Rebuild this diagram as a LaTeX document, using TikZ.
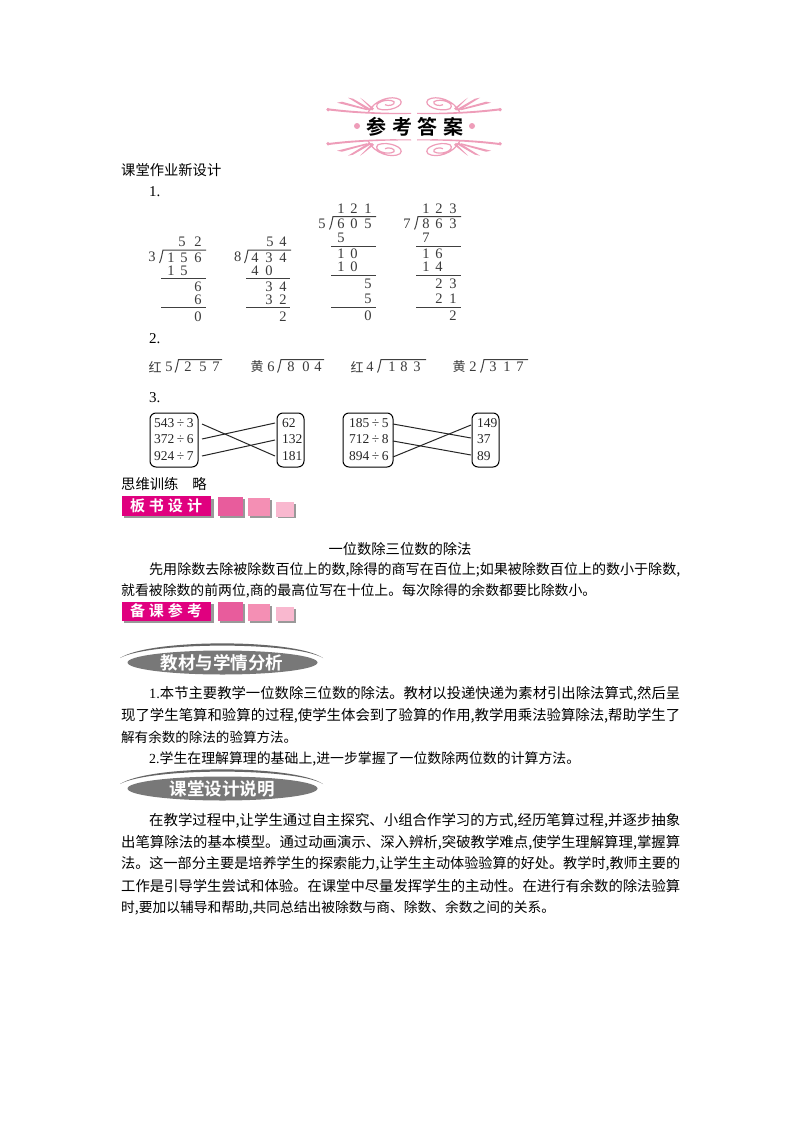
\documentclass[tikz,border=0pt]{standalone}
\usepackage{graphicx}
\usepackage{fontspec}
\setmainfont{Liberation Serif}
\newfontfamily\cjk{Noto Sans CJK SC}
\newfontfamily\cjkb{Noto Sans CJK SC Bold}
\newfontfamily\num{Liberation Serif}
\definecolor{pinkA}{HTML}{E0007F}
\definecolor{pinkB}{HTML}{E85C9C}
\definecolor{pinkC}{HTML}{F48FB4}
\definecolor{pinkD}{HTML}{F9B8CF}
\definecolor{orn}{HTML}{EE9DB9}
\definecolor{bann}{HTML}{787878}
\definecolor{inkg}{HTML}{3A3A3A}
\tikzset{
  x=1pt,y=-1pt,
  body/.style={font=\cjk\fontsize{14.3}{14.3}\selectfont,text=black,inner sep=0pt,anchor=west},
  math/.style={font=\num\fontsize{14.5}{14.5}\selectfont,text=inkg,inner sep=0pt},
  cjkm/.style={font=\cjk\fontsize{13}{13}\selectfont,text=inkg,inner sep=0pt},
  rule/.style={line width=1pt,draw=black!75},
  pill/.style={draw=black,line width=1pt,rounded corners=6pt},
  link/.style={line width=1pt,draw=black!85},
  cell/.style={font=\num\fontsize{13.5}{13.5}\selectfont,text=black!85,inner sep=0pt,anchor=west},
  bantxt/.style={font=\cjkb\fontsize{15}{15}\selectfont,text=white,inner sep=0pt},
  elltxt/.style={font=\cjkb\fontsize{17.5}{17.5}\selectfont,text=white,inner sep=0pt},
  shade/.style={fill=black!40}
}
\newcommand{\fit}[4]{\node[body] (#1) at (#2) {\resizebox{#3pt}{!}{#4}};}
\newcommand{\brk}[3]{\draw[rule] (#1-3.5,#2+13) .. controls (#1-1.5,#2+9) and (#1-1,#2+4) .. (#1,#2) -- (#3,#2);}
\newcommand{\dv}{\kern2.5pt÷\kern2.5pt}
\newcommand{\flourish}{%
  \fill[orn] (-87,-18.5) .. controls (-60,-15) and (-30,-13.5) .. (-3,-13.8) -- (-3,-12.8) .. controls (-30,-12) and (-60,-13) .. (-87,-16.5) -- cycle;
  \fill[orn] (-86,-17) circle (1.8);
  \draw[orn,line width=1.2pt] (-46,-14) .. controls (-40,-27) and (-22,-32) .. (-14,-27) .. controls (-8,-21) and (-26,-14) .. (-36,-18) .. controls (-42,-24) and (-26,-29) .. (-20,-25) .. controls (-18,-22) and (-26,-20) .. (-29,-22);
  \fill[orn] (-66,-29) -- (-61,-28) -- (-42,-17) -- (-45,-16) -- cycle;
  \fill[orn] (-54,-29) -- (-51,-27) -- (-40,-18) -- (-43,-18) -- cycle;
  \fill[orn] (-77,-24) -- (-72,-25) -- (-47,-18) -- (-47,-16.5) -- cycle;
  \fill[orn] (-42,-18) circle (1.8);
}
\newcommand{\ellban}[3]{%
  \fill[bann] (222.5,#2) ellipse (95 and 12);
  \fill[black!60] (120,#2-4.5) .. controls (150,#2-24) and (295,#2-24) .. (323,#2-4.5) .. controls (295,#2-21) and (150,#2-21) .. (120,#2-4.5) -- cycle;
  \node[elltxt] (#1) at (222,#2) {#3};
}
\begin{document}
\begin{tikzpicture}
\useasboundingbox (0,0) rectangle (800,1132);
\fill[white] (0,0) rectangle (800,1132);
% title ornament
\begin{scope}[shift={(414,126.7)}]
  \flourish
  \begin{scope}[xscale=-1]\flourish\end{scope}
  \begin{scope}[yscale=-1]\flourish\end{scope}
  \begin{scope}[xscale=-1,yscale=-1]\flourish\end{scope}
\end{scope}
\fill[orn] (357,126) circle (3) (472,126) circle (3);
\node[font=\cjkb\fontsize{20}{20}\selectfont,inner sep=0pt] (title) at (415,127) {参\hspace{5.5pt}考\hspace{5.5pt}答\hspace{5.5pt}案};
% headings
\node[body] (h1) at (121,170) {课堂作业新设计};
\node[body,font=\num\fontsize{15}{15}\selectfont] (n1) at (149,192) {1.};
\node[body,font=\num\fontsize{15}{15}\selectfont] (n2) at (149,339) {2.};
\node[body,font=\num\fontsize{15}{15}\selectfont] (n3) at (149,398) {3.};
% division 1
\foreach \t/\x/\y in {5/182/241.7,2/198/241.7,3/152/256.5,1/171/257.7,5/184/257.7,6/198/257.7,1/171/271,5/184/271,6/198/286.7,6/198/300,0/198/316.7}{\node[math] at (\x,\y) {\t};}
\brk{163}{250}{206}
\draw[rule] (161,278.7) -- (206,278.7) (161,307.7) -- (206,307.7);
% division 2
\foreach \t/\x/\y in {5/270/241.7,4/283/241.7,8/237.7/256.5,4/255/257.7,3/269/257.7,4/283/257.7,4/255/271,0/269/271,3/269/287,4/283/287,3/269/300,2/283/300,2/283/316.7}{\node[math] at (\x,\y) {\t};}
\brk{248}{250}{291}
\draw[rule] (246,278.7) -- (290,278.7) (246,307.7) -- (290,307.7);
% division 3
\foreach \t/\x/\y in {1/341/209,2/354/209,1/368/209,5/322/224,6/341/224,0/354/224,5/368/224,5/341/238,1/341/254,0/354/254,1/341/267,0/354/267,5/368/284,5/368/299,0/368/316}{\node[math] at (\x,\y) {\t};}
\brk{333}{216.5}{376}
\draw[rule] (331,246) -- (376,246) (331,275.5) -- (376,275.5) (331,307) -- (376,307);
% division 4
\foreach \t/\x/\y in {1/426/209,2/439/209,3/453/209,7/407/224,8/426/224,6/439/224,3/453/224,7/426/238,1/426/254,6/439/254,1/426/267,4/439/267,2/439/284,3/453/284,2/439/299,1/453/299,2/453/316}{\node[math] at (\x,\y) {\t};}
\brk{418}{216.5}{461}
\draw[rule] (416,246) -- (461,246) (416,275.5) -- (461,275.5) (416,307) -- (461,307);
% row 2
\node[cjkm] (r1) at (155,367) {红};
\node[math] at (169,367) {5};
\foreach \t/\x in {2/188,5/203,7/216}{\node[math] at (\x,367) {\t};}
\brk{178.5}{359.5}{222}
\node[cjkm] (r2) at (257,367) {黄};
\node[math] at (271,367) {6};
\foreach \t/\x in {8/291,0/306,4/318}{\node[math] at (\x,367) {\t};}
\brk{281}{359.5}{324}
\node[cjkm] (r3) at (357,367) {红};
\node[math] at (370,367) {4};
\foreach \t/\x in {1/392,8/404,3/417}{\node[math] at (\x,367) {\t};}
\brk{381}{359.5}{426}
\node[cjkm] (r4) at (459,367) {黄};
\node[math] at (473,367) {2};
\foreach \t/\x in {3/493,1/507,7/520}{\node[math] at (\x,367) {\t};}
\brk{484}{359.5}{528}
% boxes
\draw[pill] (150,413) rectangle (198,467);
\draw[pill] (277,413) rectangle (304,467);
\draw[pill] (343,413) rectangle (393,467);
\draw[pill] (472,413) rectangle (499,467);
\node[cell] (a1) at (154,423) {543\dv 3};
\node[cell] (a2) at (154,439) {372\dv 6};
\node[cell] (a3) at (154,456) {924\dv 7};
\node[cell] (b1) at (282,423) {62};
\node[cell] (b2) at (282,439) {132};
\node[cell] (b3) at (282,456) {181};
\node[cell] (c1) at (349,423) {185\dv 5};
\node[cell] (c2) at (349,439) {712\dv 8};
\node[cell] (c3) at (349,456) {894\dv 6};
\node[cell] (d1) at (477,423) {149};
\node[cell] (d2) at (477,439) {37};
\node[cell] (d3) at (477,456) {89};
\coordinate (pa1) at (202,424); \coordinate (pa2) at (202,439); \coordinate (pa3) at (202,456);
\coordinate (pb1) at (275,423); \coordinate (pb2) at (275,440); \coordinate (pb3) at (275,456);
\coordinate (pc1) at (393,424); \coordinate (pc2) at (393,441); \coordinate (pc3) at (393,457);
\coordinate (pd1) at (471,425); \coordinate (pd2) at (471,438); \coordinate (pd3) at (471,455);
\draw[link] (pa1) -- (pb3); \draw[link] (pa2) -- (pb1); \draw[link] (pa3) -- (pb2);
\draw[link] (pc1) -- (pd2); \draw[link] (pc2) -- (pd3); \draw[link] (pc3) -- (pd1);
% think
\node[body] (think) at (121,484) {思维训练\hspace{14pt}略};
% banner 1
\fill[shade] (124,499) rectangle (214,518);
\fill[pinkA] (122,496) rectangle (211,515.5);
\fill[shade] (220,499) rectangle (245,518); \fill[pinkB] (218,497) rectangle (243,516);
\fill[shade] (250,500) rectangle (272,518); \fill[pinkC] (248,498) rectangle (270,516);
\fill[shade] (278,504) rectangle (296,518); \fill[pinkD] (276,502) rectangle (294,516.5);
\node[bantxt] (b1t) at (166,506) {板\hspace{4pt}书\hspace{4pt}设\hspace{4pt}计};
% banner 2
\fill[shade] (124,604) rectangle (214,623);
\fill[pinkA] (122,602) rectangle (211,621);
\fill[shade] (220,604) rectangle (245,623); \fill[pinkB] (218,602) rectangle (243,621);
\fill[shade] (250,606) rectangle (272,623); \fill[pinkC] (248,604) rectangle (270,621);
\fill[shade] (278,609) rectangle (296,623); \fill[pinkD] (276,607) rectangle (294,621);
\node[bantxt] (b2t) at (166,611) {备\hspace{4pt}课\hspace{4pt}参\hspace{4pt}考};
% centre title
\node[body,anchor=center] (ct) at (400,549) {一位数除三位数的除法};
\fit{p1}{149,570}{531}{先用除数去除被除数百位上的数,除得的商写在百位上;如果被除数百位上的数小于除数,}
\fit{p2}{121,591}{475}{就看被除数的前两位,商的最高位写在十位上。每次除得的余数都要比除数小。}
\ellban{e1}{662.5}{教材与学情分析}
\fit{q1}{149,694}{531}{{\num 1.}本节主要教学一位数除三位数的除法。教材以投递快递为素材引出除法算式,然后呈}
\fit{q2}{121,716}{559}{现了学生笔算和验算的过程,使学生体会到了验算的作用,教学用乘法验算除法,帮助学生了}
\fit{q3}{121,737}{176}{解有余数的除法的验算方法。}
\fit{q4}{149,759}{431}{{\num 2.}学生在理解算理的基础上,进一步掌握了一位数除两位数的计算方法。}
\ellban{e2}{788.5}{课堂设计说明}
\fit{s1}{149,821}{531}{在教学过程中,让学生通过自主探究、小组合作学习的方式,经历笔算过程,并逐步抽象}
\fit{s2}{121,843}{559}{出笔算除法的基本模型。通过动画演示、深入辨析,突破教学难点,使学生理解算理,掌握算}
\fit{s3}{121,864}{559}{法。这一部分主要是培养学生的探索能力,让学生主动体验验算的好处。教学时,教师主要的}
\fit{s4}{121,886}{559}{工作是引导学生尝试和体验。在课堂中尽量发挥学生的主动性。在进行有余数的除法验算}
\fit{s5}{121,908}{434}{时,要加以辅导和帮助,共同总结出被除数与商、除数、余数之间的关系。}
\end{tikzpicture}
\end{document}
